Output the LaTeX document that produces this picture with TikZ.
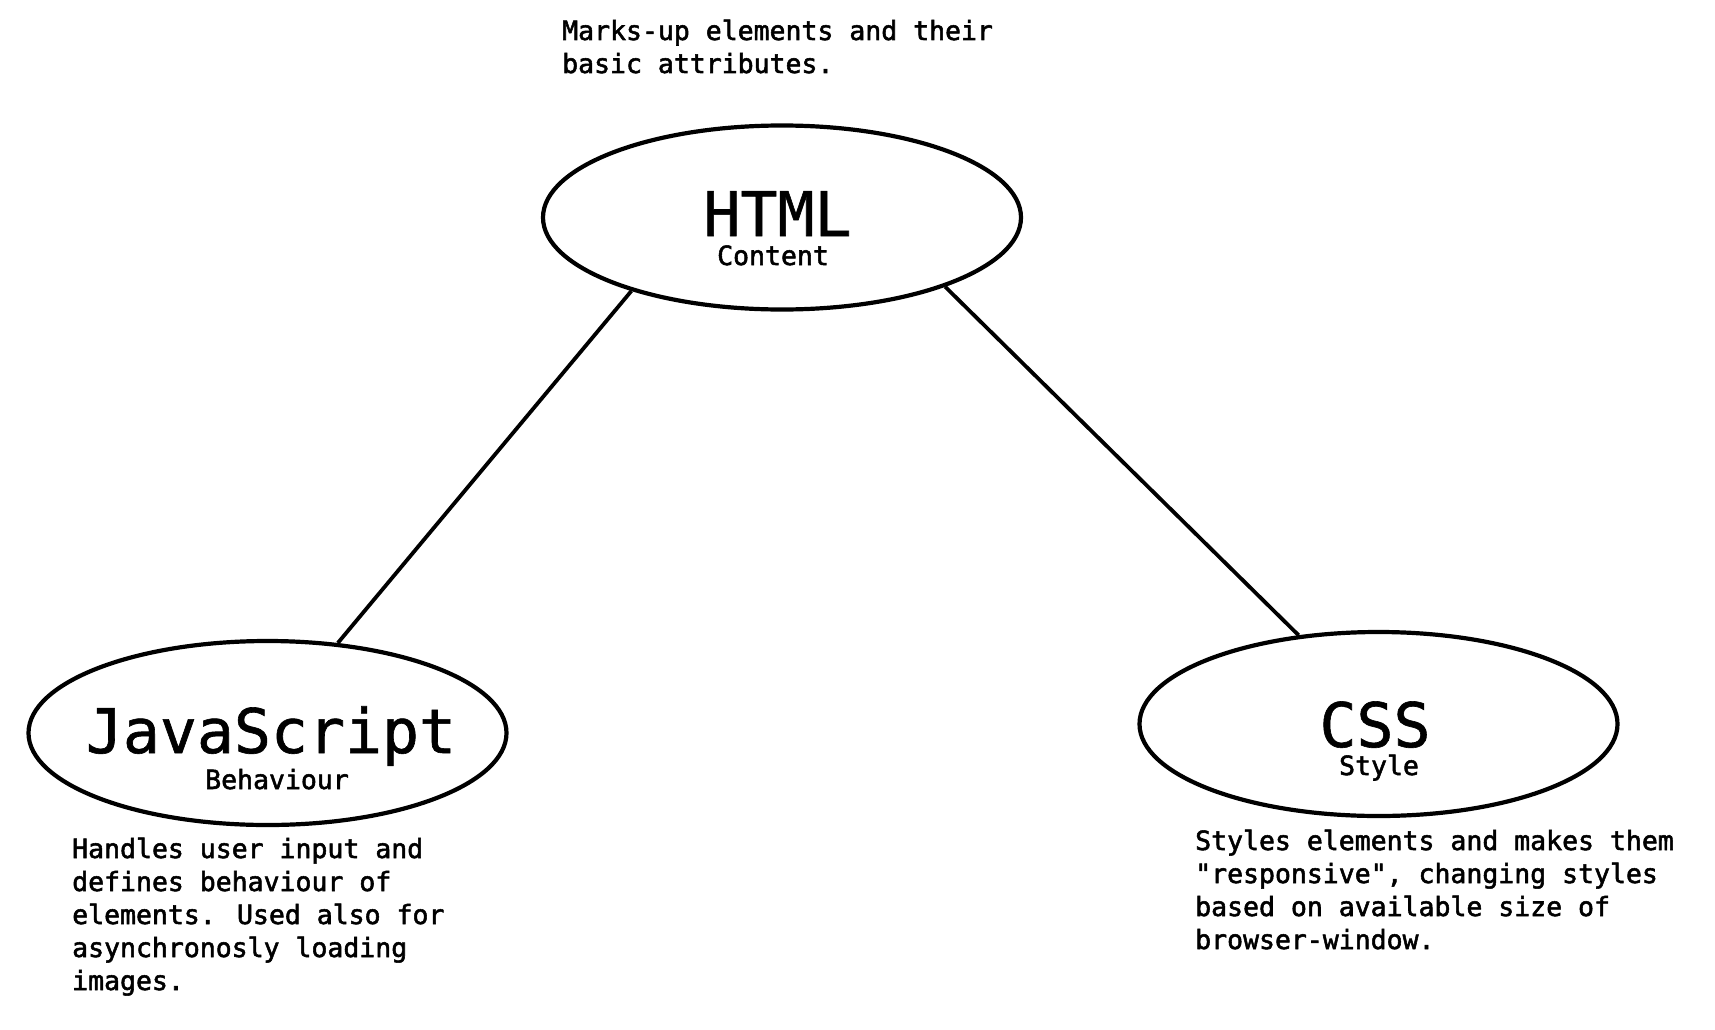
\documentclass[tikz,border=0pt]{standalone}
\usepackage{fontspec}
\setmonofont{DejaVu Sans Mono}
\newfontfamily\descfont{DejaVu Sans Mono}[FakeBold=2]
\newfontfamily\titlefont{DejaVu Sans Mono}[FakeBold=1]
\usetikzlibrary{shapes.geometric}
\tikzset{
  blob/.style={draw, ellipse, line width=4.2pt, minimum width=478pt, minimum height=184pt, inner sep=0pt},
  link/.style={line width=3.8pt},
  title/.style={anchor=base, inner sep=0pt, font=\titlefont\fontsize{61.5}{70}\selectfont},
  sub/.style={anchor=base, inner sep=0pt, font=\descfont\fontsize{26.5}{33}\selectfont},
  desc/.style={anchor=base west, align=left, inner sep=0pt, font=\descfont\fontsize{26.5}{33}\selectfont}
}
\begin{document}
\begin{tikzpicture}[x=1pt, y=-1pt]
\useasboundingbox (0,0) rectangle (1715,1030);
\node[blob] (html) at (782,217.5) {};
\node[blob] (js) at (267.5,733) {};
\node[blob] (css) at (1378.5,724) {};
\node[title] (htmlt) at (777.5,236) {HTML};
\node[sub] (htmls) at (773,265) {Content};
\node[title] (jst) at (271,753) {JavaScript};
\node[sub] (jss) at (277,789) {Behaviour};
\node[title] (csst) at (1375,747) {CSS};
\node[sub] (csss) at (1379,775) {Style};
\node[desc] (htmld) at (562,73) {Marks-up elements and their\\basic attributes.};
\node[desc] (jsd) at (72,990) {Handles user input and\\defines behaviour of\\elements. Used also for\\asynchronosly loading\\images.};
\node[desc] (cssd) at (1195,949) {Styles elements and makes them\\"responsive", changing styles\\based on available size of\\browser-window.};
\draw[link] (html.206.1) -- (js.52.1);
\draw[link] (html.337.2) -- (css.132.6);
\end{tikzpicture}
\end{document}
